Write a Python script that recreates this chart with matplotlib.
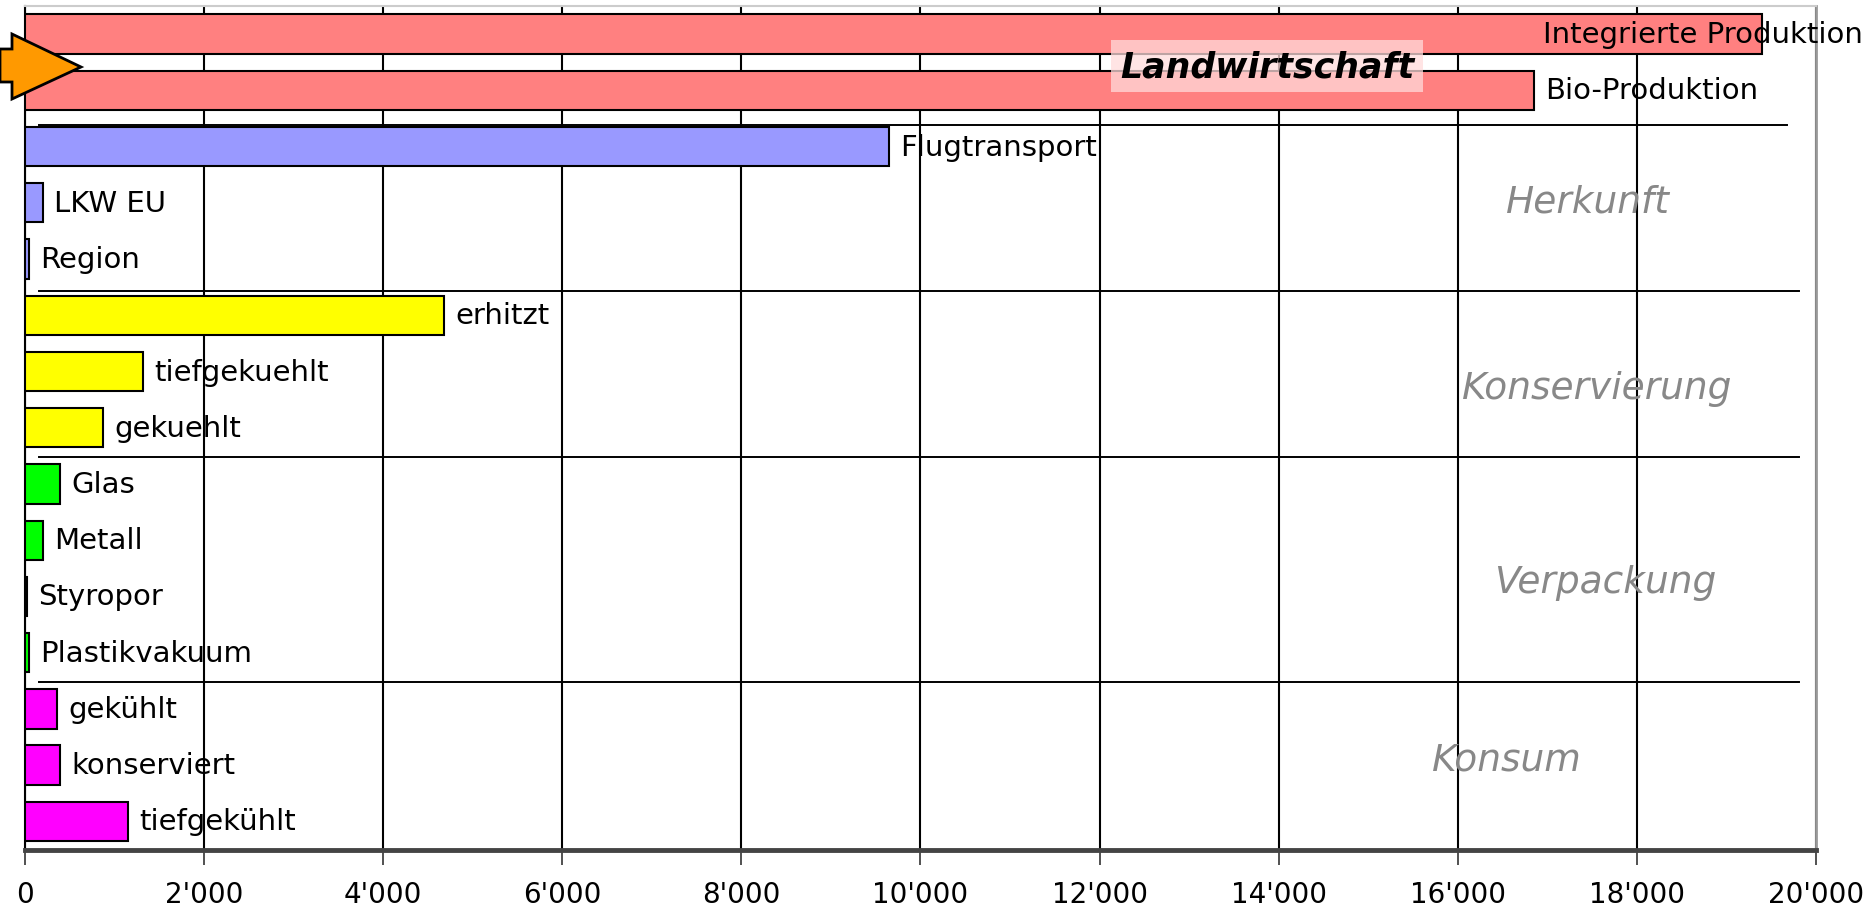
import matplotlib
matplotlib.use("Agg")
import matplotlib.pyplot as plt
from matplotlib.patches import Polygon
from matplotlib.ticker import FuncFormatter

labels = ["Integrierte Produktion", "Bio-Produktion", "Flugtransport", "LKW EU", "Region",
          "erhitzt", "tiefgekuehlt", "gekuehlt", "Glas", "Metall", "Styropor",
          "Plastikvakuum", "gekühlt", "konserviert", "tiefgekühlt"]
values = [19400, 16850, 9650, 200, 50, 4680, 1320, 870, 390, 200, 20, 50, 360, 390, 1150]
colors = ["#FF8080", "#FF8080", "#9999FF", "#9999FF", "#9999FF",
          "#FFFF00", "#FFFF00", "#FFFF00", "#00FF00", "#00FF00", "#000000",
          "#00FF00", "#FF00FF", "#FF00FF", "#FF00FF"]
groups = ["Herkunft", "Konservierung", "Verpackung", "Konsum"]
group_pos = [(17450, 2.97), (17560, 6.29), (17650, 9.75), (16550, 12.9)]
separators = [(1.62, 160, 19680), (4.56, 160, 19810), (7.52, 160, 19810), (11.52, 160, 19810)]
xticks = list(range(0, 20001, 2000))

fig = plt.figure(figsize=(18.73, 9.12), dpi=100)
ax = fig.add_axes([25/1873, 61.5/912, (1816-25)/1873, (905-61.5)/912])

y = list(range(len(labels)))
ax.barh(y, values, height=0.7, color=colors, edgecolor="black", linewidth=1.5, zorder=3)
ax.set_ylim(len(labels) - 0.5, -0.5)
ax.set_xlim(0, 20000)

ax.set_xticks(xticks)
ax.xaxis.set_major_formatter(FuncFormatter(lambda v, p: f"{int(v):,}".replace(",", "'")))
ax.tick_params(axis="x", length=11, width=1.2, color="#333333", labelsize=20, pad=11)
ax.set_yticks([])
for lab in ax.get_xticklabels():
    lab.set_family("DejaVu Sans")

ax.grid(axis="x", color="black", linewidth=1.5, zorder=0)
ax.set_axisbelow(True)

for s, c, w in [("left", "black", 1.5), ("bottom", "#444444", 3.5), ("right", "#999999", 2), ("top", "#cccccc", 1.5)]:
    ax.spines[s].set_color(c)
    ax.spines[s].set_linewidth(w)

for sy, x0, x1 in separators:
    ax.plot([x0, x1], [sy, sy], color="black", linewidth=1.4, zorder=2)

for i, (lab, v) in enumerate(zip(labels, values)):
    if i == 0:
        ax.annotate(lab, xy=(1.0, i), xycoords=("axes fraction", "data"), xytext=(34, 0),
                    textcoords="offset points", ha="right", va="center", fontsize=21,
                    family="DejaVu Sans", zorder=5, annotation_clip=False)
    else:
        ax.annotate(lab, xy=(v, i), xytext=(8, 0), textcoords="offset points",
                    ha="left", va="center", fontsize=21, family="DejaVu Sans", zorder=5)

for g, (gx, gy) in zip(groups, group_pos):
    ax.text(gx, gy, g, ha="center", va="center", fontsize=27, style="italic",
            color="#888888", family="DejaVu Sans", zorder=5)

ax.text(13870, 0.57, "Landwirtschaft", ha="center", va="center", fontsize=25,
        style="italic", weight="bold", color="black", family="DejaVu Sans", zorder=6,
        bbox=dict(boxstyle="square,pad=0.25", facecolor=(1.0, 0.86, 0.86, 0.75),
                  edgecolor="none"))

# orange block arrow at the left edge
W, H = 1873, 912
pts = [(0, 50), (12, 50), (12, 35), (81, 68), (12, 100), (12, 83), (0, 83)]
arrow = Polygon([(px / W, 1 - py / H) for px, py in pts], closed=True,
                transform=fig.transFigure, facecolor="#FF9900", edgecolor="black",
                linewidth=2, zorder=10, clip_on=False)
fig.patches.append(arrow)

fig.savefig("out.png", dpi=100)
